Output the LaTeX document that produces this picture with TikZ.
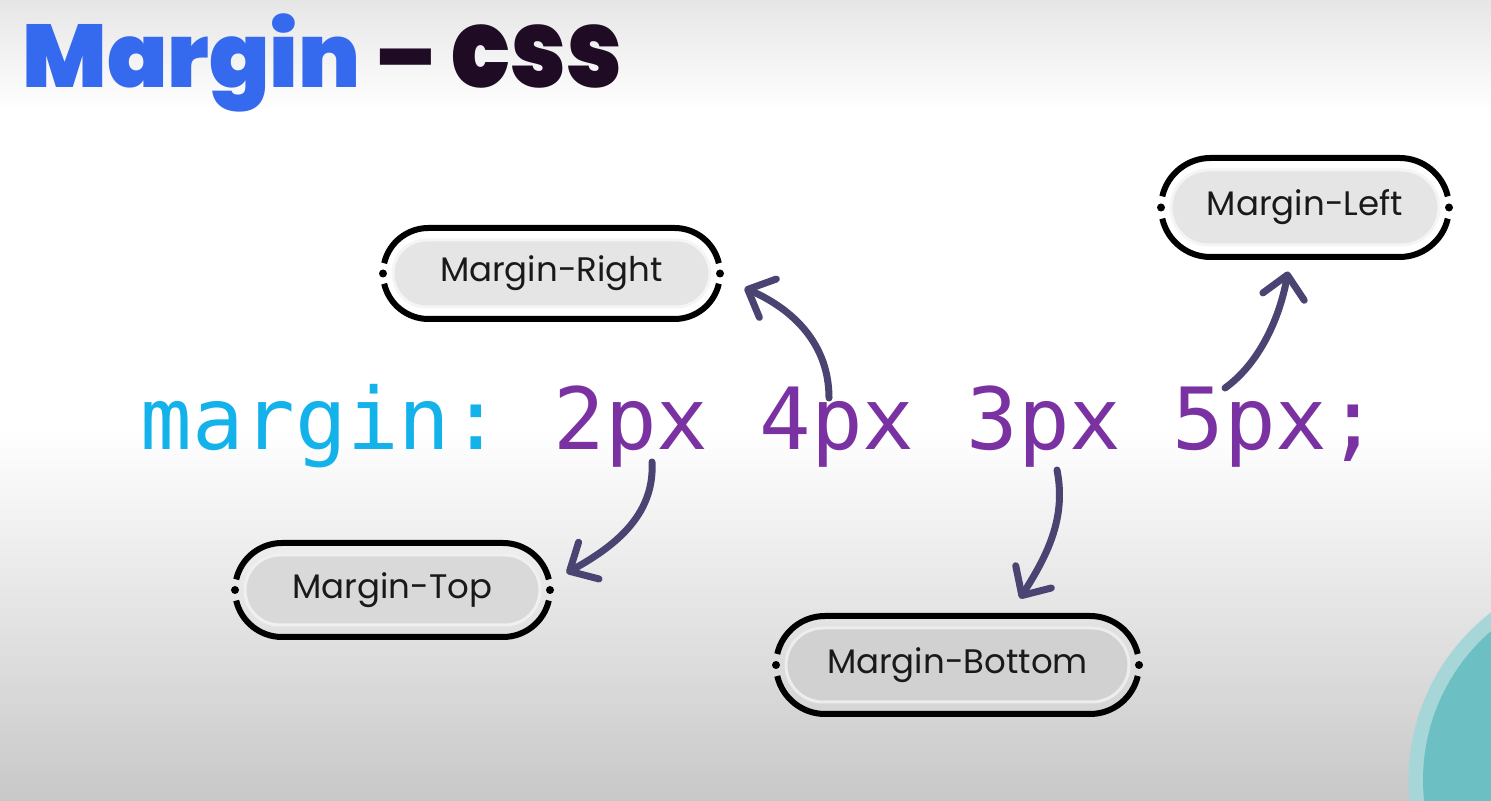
\documentclass[tikz,border=0pt]{standalone}
\usepackage{fontspec}
\usepackage{graphicx}
\usetikzlibrary{arrows.meta,shapes.misc,calc}
\newfontfamily\titlefont{Poppins Black}
\newfontfamily\pillfont{Poppins}
\newfontfamily\codefont{DejaVu Sans Mono}
\definecolor{titleblue}{HTML}{3569EE}
\definecolor{titledark}{HTML}{1F0B24}
\definecolor{propcyan}{HTML}{14B2EA}
\definecolor{valpurple}{HTML}{7A32A2}
\definecolor{arrowink}{HTML}{4A4472}
\definecolor{bgtop}{HTML}{E6E6E6}
\definecolor{bgbottom}{HTML}{C8C8C8}
\definecolor{tealring}{HTML}{A6D6D7}
\definecolor{tealdisc}{HTML}{6CBFC3}

\tikzset{
  pillinner/.style={rounded rectangle, fill=#1, draw=white!60!#1, line width=1.5pt,
    inner sep=0pt, font=\pillfont\fontsize{17pt}{19pt}\selectfont, text=black!90},
  pilledge/.style={draw=black, line width=3pt},
  codetok/.style={anchor=base west, inner sep=0pt, font=\codefont\fontsize{42.9pt}{48pt}\selectfont},
  conn/.style={draw=arrowink, line width=3.5pt, line cap=round,
    -{Straight Barb[length=11pt, width=21pt, round]}}
}

% a value box: grey stadium inside a black outline that is broken at both ends
\newcommand\valuepill[7]{% name, cx, cy, half width, half height, fill, text
  \node[pillinner=#6, minimum width={(#4-10)*1pt}, minimum height={(#5-12)*1pt}] (#1) at (#2,#3) {#7};
  \draw[pilledge] ({#2-#4+#5+#5*cos(167)},{#3+#5*sin(167)}) arc[start angle=167, end angle=90, radius=#5]
    -- ({#2+#4-#5},{#3+#5}) arc[start angle=90, end angle=13, radius=#5];
  \draw[pilledge] ({#2-#4+#5+#5*cos(193)},{#3+#5*sin(193)}) arc[start angle=193, end angle=270, radius=#5]
    -- ({#2+#4-#5},{#3-#5}) arc[start angle=270, end angle=347, radius=#5];
  \fill ({#2-#4},#3) circle[radius=4] ({#2+#4},#3) circle[radius=4];
}

\begin{document}
\begin{tikzpicture}[x=0.5pt, y=0.5pt]
\useasboundingbox (0,0) rectangle (1491,801);

% background
\begin{scope}
  \clip (0,0) rectangle (1491,801);
  \shade[top color=bgtop, bottom color=white] (0,691) rectangle (1491,801);
  \fill[white] (0,371) rectangle (1491,691.5);
  \shade[top color=white, bottom color=bgbottom] (0,0) rectangle (1491,371.5);
  \fill[tealring] (1620,21) circle[radius=211.5];
  \fill[tealdisc] (1620,21) circle[radius=197];
\end{scope}

% heading
\node[anchor=base west, inner sep=0pt, font=\titlefont\fontsize{44.5pt}{50pt}\selectfont]
  (title) at (22,713) {\textcolor{titleblue}{Margin} \textcolor{titledark}{–
  \scalebox{0.88}[1]{\fontsize{55pt}{60pt}\selectfont css}}};

% the declaration
\node[codetok, text=propcyan]   (prop) at (140,351) {margin:};
\node[codetok, text=valpurple]  (t2)   at (553,351) {2px};
\node[codetok, text=valpurple]  (t4)   at (759,351) {4px};
\node[codetok, text=valpurple]  (t3)   at (966,351) {3px};
\node[codetok, text=valpurple]  (t5)   at (1172,351) {5px;};

% value boxes
\valuepill{mr}{551.5}{527.5}{168.5}{45.5}{black!10}{Margin-Right}
\valuepill{ml}{1305}{593.5}{144}{49.5}{black!10}{Margin-Left}
\valuepill{mt}{392.5}{211}{157.5}{47}{black!15}{Margin-Top}
\valuepill{mb}{957.5}{136}{181.5}{49}{black!18}{Margin-Bottom}

% connectors
\draw[conn] ($(t4.base west)+(70,52)$) .. controls +(0,53) and +(50,-22) .. ($(mr.east)+(33,-14.5)$);
\draw[conn] ($(t5.base west)+(53,62)$) .. controls +(35,25) and +(-8,-45) .. ($(ml.south)+(-17,-25)$);
\draw[conn] ($(t2.base west)+(99,-12)$) .. controls +(3,-55) and +(45,25) .. ($(mt.east)+(25,17)$);
\draw[conn] ($(t3.base west)+(91,-20)$) .. controls +(10,-50) and +(25,40) .. ($(mb.north)+(62.5,28)$);
\end{tikzpicture}
\end{document}
